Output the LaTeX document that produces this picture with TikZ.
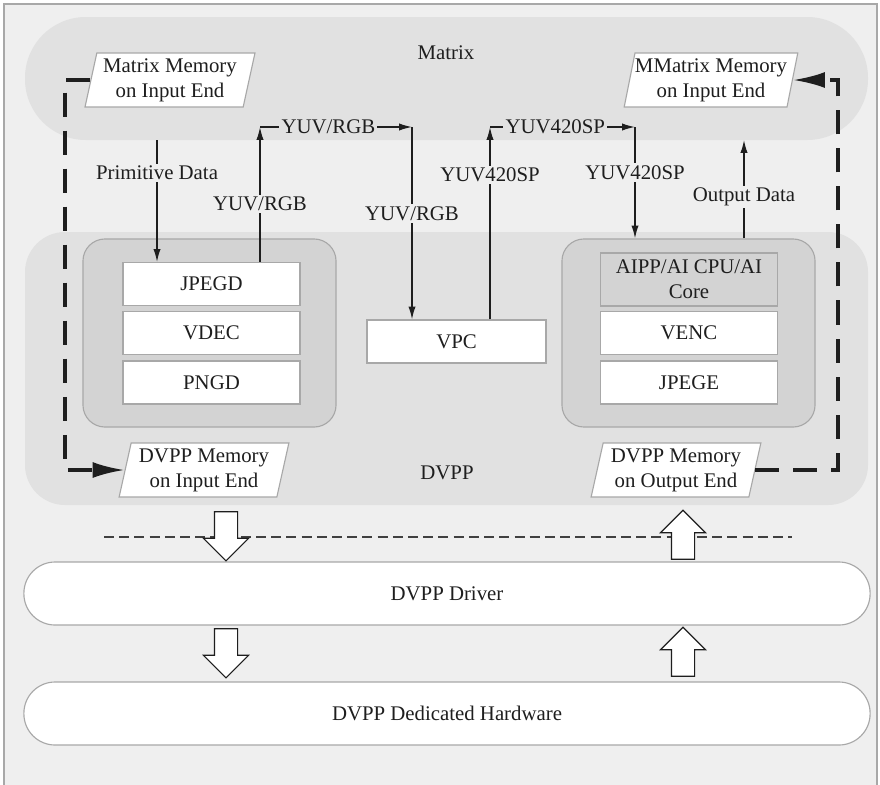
\documentclass[tikz,border=0pt]{standalone}
\usepackage{fontspec}
\setmainfont{Liberation Serif}
\usetikzlibrary{shapes.geometric,shapes.arrows,arrows.meta}
\definecolor{sfondo}{HTML}{EFEFEF}
\definecolor{fascia}{HTML}{E1E1E1}
\definecolor{grigio}{HTML}{D3D3D3}
\definecolor{bordo}{HTML}{A8A8A8}
\definecolor{testo}{HTML}{1E1E1E}
\tikzset{
  modulo/.style  = {rectangle, draw=bordo, thick, fill=white, minimum width=4.425cm, minimum height=1.075cm, inner sep=0},
  gruppo/.style  = {rectangle, rounded corners=0.55cm, draw=bordo, thick, fill=grigio, minimum width=6.325cm, minimum height=4.7cm},
  memoria/.style = {trapezium, trapezium left angle=76, trapezium right angle=104, trapezium stretches=true, draw=bordo, thick, fill=white, minimum width=4.25cm, minimum height=1.35cm, align=center, inner sep=0},
  pillola/.style = {rectangle, rounded corners=0.78cm, draw=bordo, thick, fill=white, minimum width=21.15cm, minimum height=1.575cm},
  flusso/.style  = {draw=testo, line width=1pt, -{Latex[length=3.2mm,width=1.8mm]}},
  tratto/.style  = {draw=testo, line width=2.4pt, dash pattern=on 0.6cm off 0.35cm, -{Latex[length=8mm,width=4mm]}},
  et/.style      = {fill=sfondo, inner sep=1.5pt},
  freccione/.style = {single arrow, draw=testo, thick, fill=white, minimum height=1.225cm, minimum width=1.1cm, single arrow head extend=0.275cm, inner xsep=0, inner ysep=0.275cm}
}

\begin{document}
\begin{tikzpicture}[x=0.025cm, y=-0.025cm, every node/.style={font=\fontsize{14.8pt}{17.8pt}\selectfont, text=testo}]
  \clip (0,0) rectangle (880,784);
  \fill[white] (0,0) rectangle (880,784);
  \draw[bordo, thick, fill=sfondo] (4,4) rectangle (877,800);
  \fill[fascia, rounded corners=1.52cm] (25,17) rectangle (868,140);
  \fill[fascia, rounded corners=1cm] (25,232) rectangle (868,505);

  \node (mx) at (446,53) {Matrix};
  \node (dv) at (447,473) {DVPP};

  \node[gruppo] (gs) at (209.5,333) {};
  \node[gruppo] (gd) at (688.5,333) {};
  \node[modulo] (jd) at (211.5,284) {JPEGD};
  \node[modulo] (vd) at (211.5,333) {VDEC};
  \node[modulo] (pn) at (211.5,382.5) {PNGD};
  \node[modulo, fill=grigio, minimum height=1.325cm, align=center] (ai) at (689,279.5) {AIPP/AI CPU/AI\\Core};
  \node[modulo] (ve) at (689,333) {VENC};
  \node[modulo] (je) at (689,382.5) {JPEGE};
  \node[modulo, minimum width=4.475cm] (vpc) at (456.5,341.5) {VPC};

  \node[memoria] (mi) at (170,80) {Matrix Memory\\ on Input End};
  \node[memoria] (mo) at (711,80) {MMatrix Memory\\ on Input End};
  \node[memoria] (di) at (204,470) {DVPP Memory\\ on Input End};
  \node[memoria] (do) at (676,470) {DVPP Memory\\ on Output End};

  \coordinate (pd) at (157,140); \coordinate (od) at (744,140);
  \coordinate (c1) at (260,127); \coordinate (c2) at (412,127);
  \coordinate (c3) at (490,127); \coordinate (c4) at (635,127);
  \coordinate (xl) at (65,0);    \coordinate (xr) at (838,0);

  \draw[flusso] (pd) -- node[et, pos=0.27] {Primitive Data} (pd |- jd.north);
  \draw[flusso] (jd.north -| c1) -- node[et, pos=0.43] {YUV/RGB} (c1);
  \draw[flusso] (c1) -- node[et, fill=fascia, pos=0.45] {YUV/RGB} (c2);
  \draw[flusso] (c2) -- node[et, pos=0.45] {YUV/RGB} (vpc.north -| c2);
  \draw[flusso] (vpc.north -| c3) -- node[et, pos=0.75] {YUV420SP} (c3);
  \draw[flusso] (c3) -- node[et, fill=fascia, pos=0.45] {YUV420SP} (c4);
  \draw[flusso] (c4) -- node[et, pos=0.41] {YUV420SP} (gd.north -| c4);
  \draw[flusso] (gd.north -| od) -- node[et, pos=0.42] {Output Data} (od);

  \draw[tratto] (mi.west) -- (mi.west -| xl) -- (di.west -| xl) -- (di.west);
  \draw[tratto] (do.east) -- (do.east -| xr) -- (mo.east -| xr) -- (mo.east);

  \draw[testo!85, line width=1pt, dash pattern=on 0.25cm off 0.13cm] (104,537) -- (792,537);
  \node[pillola] (drv) at (447,593.5) {DVPP Driver};
  \node[pillola] (hw)  at (447,713.5) {DVPP Dedicated Hardware};
  \node[freccione, rotate=-90] (g1) at (226,530.5) {};
  \node[freccione, rotate=-90] (g2) at (226,647.5) {};
  \node[freccione, rotate=90]  (s1) at (683,540.5) {};
  \node[freccione, rotate=90]  (s2) at (683,657.5) {};
\end{tikzpicture}
\end{document}
